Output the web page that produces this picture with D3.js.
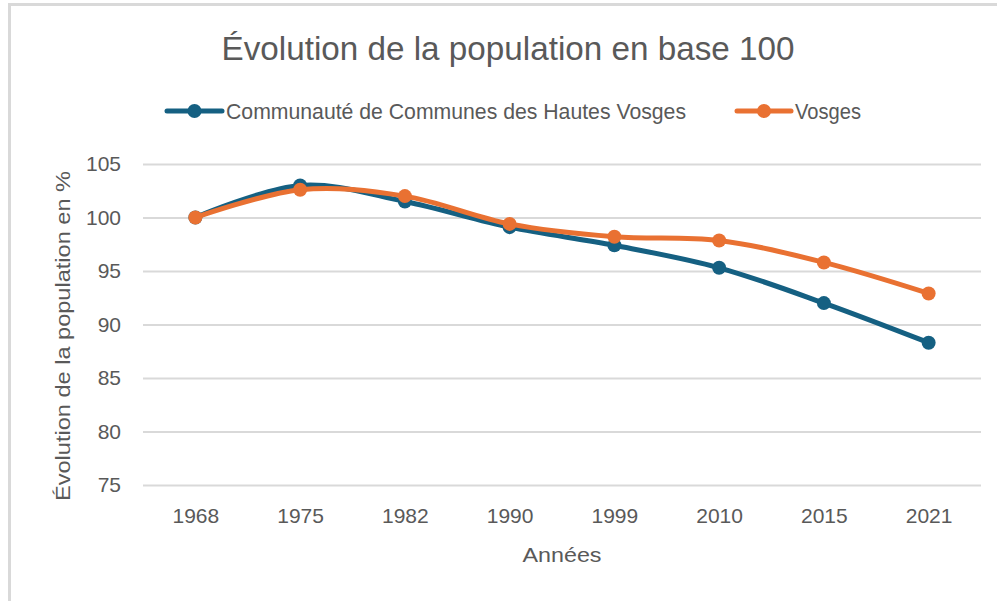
<!DOCTYPE html>
<html>
<head>
<meta charset="utf-8">
<script src="https://cdn.jsdelivr.net/npm/d3@7"></script>
<style>
  body { margin: 0; background: #fff; }
  svg { display: block; }
</style>
</head>
<body>
<svg></svg>
<script>
var years = ["1968", "1975", "1982", "1990", "1999", "2010", "2015", "2021"];
var ccHautesVosges = [100, 103.0, 101.5, 99.1, 97.4, 95.3, 92.0, 88.3];
var vosges = [100, 102.6, 102.0, 99.4, 98.2, 97.85, 95.8, 92.9];
var yTicks = [75, 80, 85, 90, 95, 100, 105];
var seriesNames = ["Communauté de Communes des Hautes Vosges", "Vosges"];
var colors = ["#156082", "#E97132"];

var svg_width = 997;
var svg_height = 601;
var textColor = "#595959";
var font = "'Liberation Sans', Arial, sans-serif";

var svg = d3.select("svg")
  .attr("width", svg_width)
  .attr("height", svg_height);

// chart frame (cropped on right and bottom)
svg.append("rect")
  .attr("x", 9.5).attr("y", 4.5)
  .attr("width", 1100).attr("height", 700)
  .attr("fill", "#fff")
  .attr("stroke", "#d9d9d9")
  .attr("stroke-width", 3);

var x = d3.scalePoint().domain(years).range([143, 981]).padding(0.5);
var y = d3.scaleLinear().domain([75, 105]).range([485, 164]);

// gridlines
svg.append("g")
  .attr("transform", "translate(143,0)")
  .call(d3.axisLeft(y).tickValues(yTicks).tickSize(-(981 - 143)).tickFormat(""))
  .call(function(g) { g.select(".domain").remove(); })
  .selectAll("line")
  .attr("stroke", "#d9d9d9")
  .attr("stroke-width", 2);

// y tick labels
svg.append("g")
  .attr("transform", "translate(121,0)")
  .call(d3.axisLeft(y).tickValues(yTicks).tickSize(0).tickPadding(0))
  .call(function(g) { g.select(".domain").remove(); })
  .selectAll("text")
  .attr("fill", textColor)
  .style("font-family", font)
  .style("font-size", "21px");

// x tick labels
svg.append("g")
  .attr("transform", "translate(0,500)")
  .call(d3.axisBottom(x).tickSize(0).tickPadding(8))
  .call(function(g) { g.select(".domain").remove(); })
  .selectAll("text")
  .attr("fill", textColor)
  .style("font-family", font)
  .style("font-size", "21px");

// axis titles
svg.append("text")
  .attr("x", 562).attr("y", 562)
  .attr("text-anchor", "middle")
  .attr("fill", textColor)
  .attr("textLength", 79)
  .attr("lengthAdjust", "spacingAndGlyphs")
  .style("font-family", font)
  .style("font-size", "21px")
  .text("Années");

svg.append("text")
  .attr("transform", "translate(70,336) rotate(-90)")
  .attr("text-anchor", "middle")
  .attr("fill", textColor)
  .attr("textLength", 330)
  .attr("lengthAdjust", "spacingAndGlyphs")
  .style("font-family", font)
  .style("font-size", "21px")
  .text("Évolution de la population en %");

// title
svg.append("text")
  .attr("x", 508).attr("y", 60)
  .attr("text-anchor", "middle")
  .attr("fill", textColor)
  .attr("textLength", 573)
  .attr("lengthAdjust", "spacingAndGlyphs")
  .style("font-family", font)
  .style("font-size", "34px")
  .text("Évolution de la population en base 100");

// series
var line = d3.line()
  .x(function(d, i) { return x(years[i]); })
  .y(function(d) { return y(d); })
  .curve(d3.curveCatmullRom.alpha(0));

[ccHautesVosges, vosges].forEach(function(values, k) {
  svg.append("path")
    .datum(values)
    .attr("fill", "none")
    .attr("stroke", colors[k])
    .attr("stroke-width", 5)
    .attr("stroke-linecap", "round")
    .attr("d", line);
  svg.append("g").selectAll("circle")
    .data(values)
    .enter().append("circle")
    .attr("cx", function(d, i) { return x(years[i]); })
    .attr("cy", function(d) { return y(d); })
    .attr("r", 7)
    .attr("fill", colors[k]);
});

// legend
var legendItems = [
  { x1: 167, x2: 222, tx: 226, len: 460 },
  { x1: 737, x2: 791, tx: 795, len: 66 }
];
legendItems.forEach(function(it, k) {
  var g = svg.append("g");
  g.append("line")
    .attr("x1", it.x1).attr("x2", it.x2)
    .attr("y1", 111).attr("y2", 111)
    .attr("stroke", colors[k])
    .attr("stroke-width", 5)
    .attr("stroke-linecap", "round");
  g.append("circle")
    .attr("cx", (it.x1 + it.x2) / 2).attr("cy", 111)
    .attr("r", 7)
    .attr("fill", colors[k]);
  g.append("text")
    .attr("x", it.tx).attr("y", 119)
    .attr("fill", textColor)
    .attr("textLength", it.len)
    .attr("lengthAdjust", "spacingAndGlyphs")
    .style("font-family", font)
    .style("font-size", "22px")
    .text(seriesNames[k]);
});
</script>
</body>
</html>
